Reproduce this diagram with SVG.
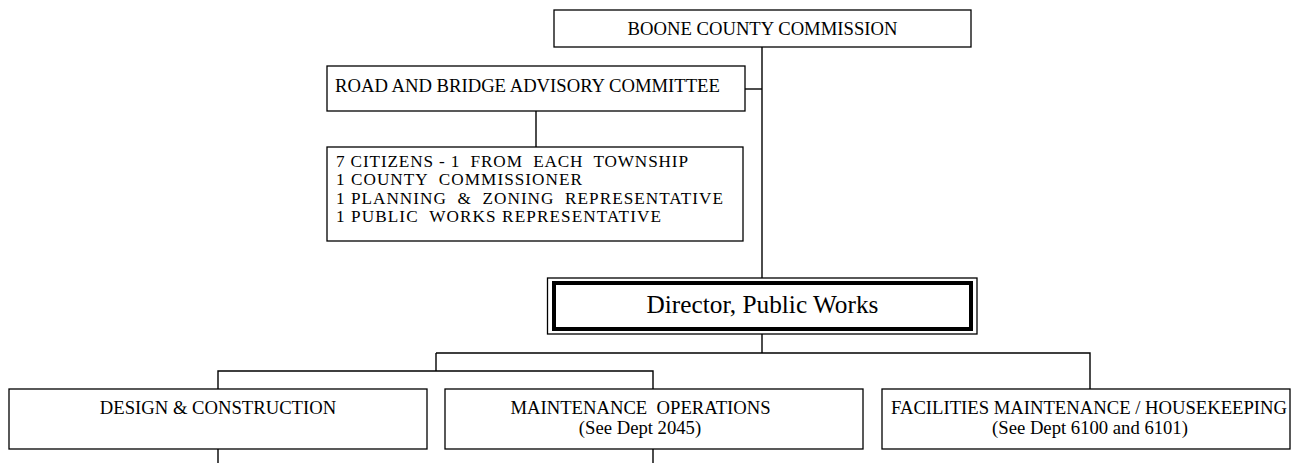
<svg xmlns="http://www.w3.org/2000/svg" width="1299" height="463" viewBox="0 0 1299 463">
  <style>
    .box { fill: #ffffff; stroke: #000000; stroke-width: 1.3; }
    .thick { fill: none; stroke: #000000; stroke-width: 4; }
    .line { fill: none; stroke: #000000; stroke-width: 1.4; }
    text { font-family: "Liberation Serif", "Times New Roman", serif; fill: #000000; font-size: 18.67px; }
    .c { text-anchor: middle; }
    .big { font-size: 25.3px; }
    .list { font-size: 17.2px; }
  </style>
  <rect width="1299" height="463" fill="#ffffff"/>

  <g id="connectors">
    <path class="line" d="M762 47 V278"/>
    <path class="line" d="M745 89 H762"/>
    <path class="line" d="M536 111 V147"/>
    <path class="line" d="M762 334 V353"/>
    <path class="line" d="M436 353 H1090 V389"/>
    <path class="line" d="M436 353 V371"/>
    <path class="line" d="M218 389 V371 H653 V389"/>
    <path class="line" d="M218 449 V463"/>
    <path class="line" d="M653 449 V463"/>
  </g>

  <g id="commission">
    <rect class="box" x="554" y="10" width="417" height="37"/>
    <text class="c" x="762.5" y="35">BOONE COUNTY COMMISSION</text>
  </g>

  <g id="advisory-committee">
    <rect class="box" x="327" y="66" width="418" height="45"/>
    <text x="335" y="91.5">ROAD AND BRIDGE ADVISORY COMMITTEE</text>
  </g>

  <g id="committee-members">
    <rect class="box" x="327" y="147" width="416" height="94"/>
    <text class="list" x="336" y="166.5" xml:space="preserve" textLength="352" lengthAdjust="spacing">7 CITIZENS - 1  FROM  EACH  TOWNSHIP</text>
    <text class="list" x="336" y="185" xml:space="preserve" textLength="246" lengthAdjust="spacing">1 COUNTY  COMMISSIONER</text>
    <text class="list" x="336" y="203.5" xml:space="preserve" textLength="387" lengthAdjust="spacing">1 PLANNING  &amp;  ZONING  REPRESENTATIVE</text>
    <text class="list" x="336" y="222" xml:space="preserve" textLength="325" lengthAdjust="spacing">1 PUBLIC  WORKS REPRESENTATIVE</text>
  </g>

  <g id="director">
    <rect class="box" x="547.5" y="278" width="429.5" height="56"/>
    <rect class="thick" x="554" y="283" width="417" height="46"/>
    <text class="c big" x="762.5" y="313">Director, Public Works</text>
  </g>

  <g id="design-construction">
    <rect class="box" x="9" y="389" width="418" height="60"/>
    <text class="c" x="218" y="414">DESIGN &amp; CONSTRUCTION</text>
  </g>

  <g id="maintenance-operations">
    <rect class="box" x="445" y="389" width="418" height="60"/>
    <text class="c" x="640.5" y="413.5" xml:space="preserve">MAINTENANCE  OPERATIONS</text>
    <text class="c" x="640" y="434">(See Dept 2045)</text>
  </g>

  <g id="facilities-maintenance">
    <rect class="box" x="882" y="389" width="408" height="60"/>
    <text class="c" x="1089" y="414">FACILITIES MAINTENANCE / HOUSEKEEPING</text>
    <text class="c" x="1090" y="433.5">(See Dept 6100 and 6101)</text>
  </g>
</svg>
